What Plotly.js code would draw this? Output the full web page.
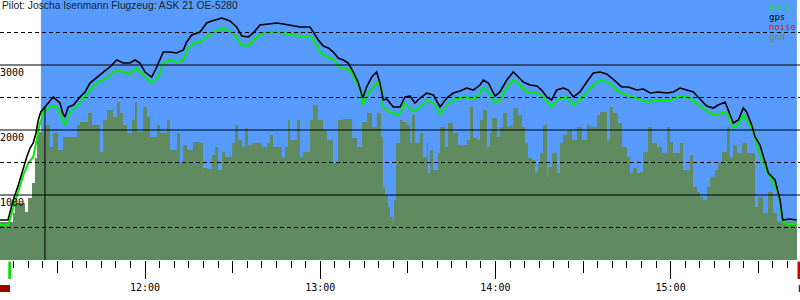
<!DOCTYPE html>
<html>
<head>
<meta charset="utf-8">
<script src="https://cdn.plot.ly/plotly-3.0.1.min.js"></script>
<style>
html,body{margin:0;padding:0;background:#fff;}
#chart{width:800px;height:300px;}
</style>
</head>
<body>
<div id="chart"></div>
<script>
// ---- data (time in decimal hours, altitude in m) ----
const titleText = "Pilot: Joscha Isenmann Flugzeug: ASK 21 OE-5280";
const hourTicks = [12, 13, 14, 15];
const hourLabels = ["12:00", "13:00", "14:00", "15:00"];
const halfHourTicks = [11.5, 12.5, 13.5, 14.5, 15.5];
const altLabels = [1000, 2000, 3000];
const solidLevels = [1000, 2000, 3000];
const dashLevels = [500, 1500, 2500, 3500];
const legendNames = ["baro", "gps", "noise", "gnd"];
const legendColors = ["#00ee00", "#000000", "#ff0000", "#5f8a5f"];
const flightStart = 11.406;   // start of blue (in-flight) band
const flightEnd = 15.721;
const markerTime = 11.429;
const markerAlt = 2354;

const gpsTime = [11.172,11.218,11.224,11.248,11.277,11.305,11.325,11.344,11.362,11.378,11.391,11.405,11.429,11.458,11.477,11.496,11.515,11.530,11.543,11.562,11.591,11.629,11.658,11.686,11.724,11.762,11.800,11.839,11.876,11.914,11.943,11.971,12.000,12.038,12.067,12.104,12.143,12.181,12.219,12.238,12.267,12.295,12.314,12.352,12.381,12.438,12.485,12.523,12.552,12.590,12.618,12.656,12.695,12.752,12.790,12.846,12.885,12.942,12.961,12.989,13.018,13.046,13.075,13.103,13.132,13.160,13.189,13.218,13.243,13.265,13.294,13.322,13.341,13.360,13.380,13.417,13.456,13.484,13.513,13.541,13.570,13.608,13.646,13.684,13.722,13.760,13.798,13.836,13.874,13.912,13.931,13.960,13.998,14.026,14.065,14.102,14.131,14.159,14.198,14.236,14.264,14.293,14.321,14.350,14.388,14.416,14.445,14.483,14.521,14.559,14.597,14.635,14.664,14.692,14.721,14.759,14.807,14.844,14.883,14.930,14.978,15.016,15.054,15.092,15.130,15.168,15.206,15.244,15.272,15.311,15.330,15.358,15.387,15.415,15.434,15.463,15.482,15.510,15.539,15.558,15.596,15.625,15.640,15.681,15.721];
const gpsAlt = [615,615,677,923,1154,1415,1585,1723,1800,1954,2154,2277,2354,2462,2508,2462,2415,2262,2200,2354,2385,2508,2585,2723,2815,2892,2969,3077,3031,3031,3077,3031,2892,2815,2969,3200,3200,3185,3231,3354,3462,3492,3508,3646,3677,3723,3677,3585,3446,3431,3492,3615,3631,3646,3631,3600,3585,3585,3508,3385,3292,3262,3200,3108,3077,3031,2892,2723,2492,2662,2815,2892,2723,2462,2477,2354,2354,2508,2523,2415,2492,2569,2538,2354,2492,2569,2600,2646,2615,2692,2769,2723,2523,2585,2769,2892,2815,2738,2692,2677,2615,2508,2462,2615,2646,2615,2508,2585,2738,2877,2892,2862,2800,2738,2662,2662,2615,2631,2569,2585,2569,2585,2646,2615,2585,2477,2369,2338,2385,2431,2308,2108,2154,2338,2277,2077,1892,1769,1508,1338,1231,923,615,631,615];

const baroTime = [11.172,11.220,11.248,11.277,11.305,11.334,11.362,11.382,11.401,11.420,11.458,11.496,11.525,11.543,11.572,11.629,11.686,11.724,11.781,11.839,11.876,11.914,11.953,11.990,12.038,12.076,12.104,12.143,12.181,12.219,12.247,12.285,12.314,12.390,12.447,12.504,12.552,12.590,12.638,12.695,12.771,12.809,12.885,12.942,12.970,12.999,13.037,13.075,13.113,13.170,13.199,13.227,13.243,13.265,13.303,13.332,13.351,13.360,13.398,13.437,13.456,13.484,13.532,13.570,13.608,13.646,13.684,13.722,13.760,13.817,13.855,13.893,13.931,13.960,13.998,14.026,14.065,14.102,14.141,14.179,14.236,14.274,14.321,14.350,14.407,14.445,14.483,14.521,14.559,14.597,14.654,14.702,14.750,14.807,14.864,14.930,14.997,15.054,15.111,15.168,15.225,15.263,15.301,15.330,15.358,15.387,15.415,15.443,15.472,15.501,15.539,15.577,15.615,15.640,15.663,15.721];
const baroAlt = [538,538,800,1046,1308,1492,1585,1846,2108,2262,2354,2369,2200,2077,2262,2415,2615,2723,2800,2923,2892,2862,2954,2846,2723,2815,3031,3077,3046,3077,3262,3338,3354,3508,3569,3492,3308,3292,3431,3508,3508,3477,3446,3446,3354,3200,3123,3092,2954,2923,2769,2646,2385,2508,2662,2738,2615,2354,2277,2231,2262,2415,2277,2354,2462,2415,2246,2385,2462,2508,2492,2492,2646,2585,2415,2462,2662,2769,2692,2585,2569,2508,2354,2462,2508,2385,2462,2585,2692,2769,2723,2585,2538,2492,2431,2462,2462,2523,2492,2369,2262,2231,2277,2231,2031,2077,2231,2123,1969,1692,1431,1231,1031,585,554,554];

const gndTime = [11.172,11.247,11.258,11.315,11.332,11.355,11.372,11.384,11.429,11.458,11.475,11.503,11.532,11.612,11.629,11.675,11.697,11.743,11.760,11.783,11.817,11.840,11.857,11.874,11.897,11.926,11.943,11.954,11.989,12.011,12.029,12.069,12.086,12.126,12.143,12.183,12.200,12.217,12.240,12.274,
12.314,12.331,12.354,12.382,12.400,12.417,12.440,12.457,12.497,12.514,12.531,12.554,12.571,12.588,12.611,12.668,12.696,12.713,12.731,12.782,12.799,12.816,12.828,12.868,12.885,12.902,12.942,12.959,12.987,13.016,13.039,13.073,13.102,13.130,13.182,13.210,13.239,13.267,13.296,13.324,13.347,13.358,13.370,13.387,13.398,13.416,13.421,13.433,
13.456,13.473,13.496,13.513,13.524,13.541,13.570,13.587,13.610,13.615,13.627,13.644,13.672,13.684,13.712,13.729,13.758,13.787,13.838,13.855,13.872,13.895,13.912,13.929,13.952,13.969,13.981,14.009,14.026,14.043,14.066,14.083,14.101,14.129,14.152,14.169,14.186,14.209,14.226,14.243,14.255,14.272,14.295,14.300,14.323,14.352,14.369,14.386,14.409,14.437,14.466,14.494,14.523,14.540,14.580,
14.597,14.637,14.654,14.671,14.700,14.723,14.751,14.768,14.786,14.808,14.826,14.843,14.871,14.894,14.922,14.951,14.980,14.997,15.014,15.054,15.071,15.111,15.128,15.151,15.168,15.185,15.208,15.225,15.253,15.271,15.293,15.322,15.339,15.356,15.379,15.408,15.436,15.482,15.499,15.528,15.556,15.584,15.607,15.721];
const gndAlt = [585,723,877,738,954,1185,1569,1969,2077,1738,1954,1692,1892,2077,2123,2262,2077,1662,2154,2308,2200,2431,2262,2077,1954,2154,2431,1969,2354,2200,1892,2077,1954,2154,1692,1954,1492,1769,1692,1815,
1800,1415,1400,1615,1738,1385,1662,1585,1800,2077,1846,1738,2031,1769,1800,1738,1800,1923,1738,1585,1738,2154,1846,2154,1585,1662,2154,2385,2154,2000,1846,1492,2154,2169,1877,1738,2123,2262,2046,2262,1892,1123,1000,815,662,569,923,1800,
2154,2123,2077,1800,2231,1800,1954,1585,1800,1338,1692,1385,1646,2046,1738,2108,1954,1769,1846,2354,1877,1846,2154,2308,1738,1954,2185,1892,2046,2262,2046,2062,2338,2231,2046,1800,1569,1538,1354,1492,1646,2077,1277,1431,1646,1338,1800,1923,2000,1846,2046,1846,2077,2046,2231,
2277,1846,2354,2262,2108,1738,1585,1338,1415,1338,1354,1662,2046,1800,1738,1646,2046,1815,1646,1800,1385,1615,1123,1046,969,923,1123,1277,1385,1492,1662,2046,1585,1769,1646,1800,1646,815,969,723,1046,723,585,585];

// ---- drawing ----
const X0 = 11.1724, X1 = 15.7386;
const PH = 260; // plot height in px
const mono = "DejaVu Sans Mono, monospace";

const traces = [
  {x: gndTime, y: gndAlt, type: "scatter", mode: "lines", line: {shape: "hv", width: 0, color: "#5f8a5f"},
   fill: "tozeroy", fillcolor: "#608b60", hoverinfo: "skip", showlegend: false},
  {x: baroTime, y: baroAlt, type: "scatter", mode: "lines", line: {color: "#00ee00", width: 2}, showlegend: false},
  {x: gpsTime, y: gpsAlt, type: "scatter", mode: "lines", line: {color: "#000000", width: 1.6}, showlegend: false},
  {x: [], y: [], xaxis: "x2", type: "scatter", mode: "lines", showlegend: false}
];

const shapes = [];
shapes.push({type: "rect", xref: "x", yref: "paper", x0: flightStart, x1: flightEnd, y0: 0, y1: 1,
  fillcolor: "#589bff", line: {width: 0}, layer: "below"});
solidLevels.forEach(v => shapes.push({type: "line", xref: "paper", yref: "y", x0: 0, x1: 1, y0: v, y1: v,
  line: {color: "#000", width: 1}, layer: "above"}));
dashLevels.forEach(v => shapes.push({type: "line", xref: "paper", yref: "y", x0: 0, x1: 1, y0: v, y1: v,
  line: {color: "#000", width: 1, dash: "4px,3px"}, layer: "above"}));
shapes.push({type: "line", xref: "x", yref: "y", x0: markerTime, x1: markerTime, y0: 0, y1: markerAlt,
  line: {color: "#000", width: 1}, layer: "above"});
// start / end markers under the axis
shapes.push({type: "rect", xref: "paper", yref: "paper", x0: 8.3/800, x1: 11/800, y0: -1.7/PH, y1: -19/PH,
  fillcolor: "#00dd00", line: {width: 0}});
shapes.push({type: "rect", xref: "paper", yref: "paper", x0: 0, x1: 10/800, y0: -25/PH, y1: -32/PH,
  fillcolor: "#a00000", line: {width: 0}});
shapes.push({type: "rect", xref: "paper", yref: "paper", x0: 797.5/800, x1: 1, y0: -1.7/PH, y1: -19/PH,
  fillcolor: "#cc0000", line: {width: 0}});
shapes.push({type: "rect", xref: "paper", yref: "paper", x0: 798.8/800, x1: 1, y0: -25/PH, y1: -32/PH,
  fillcolor: "#a00000", line: {width: 0}});

const annotations = [];
annotations.push({text: titleText, xref: "paper", yref: "paper", x: 0, y: 1, xanchor: "left", yanchor: "top",
  yshift: 2, showarrow: false, font: {family: "Liberation Sans, Arial, sans-serif", size: 10.3, color: "#222"}});
altLabels.forEach(v => annotations.push({text: String(v), xref: "paper", yref: "y", x: 0, y: v,
  xanchor: "left", yanchor: "top", xshift: -2, yshift: 0, showarrow: false, font: {family: mono, size: 10, color: "#000"}}));
legendNames.forEach((n, i) => annotations.push({text: n, xref: "paper", yref: "paper", x: 769/800, y: 1 - (7 + 10*i)/PH,
  xanchor: "left", yanchor: "middle", xshift: -1, borderpad: 0, showarrow: false,
  font: {family: mono, size: 9, color: legendColors[i]}}));

const layout = {
  width: 800, height: 300,
  margin: {l: 0, r: 0, t: 0, b: 40, pad: 0},
  paper_bgcolor: "#ffffff", plot_bgcolor: "#ffffff",
  showlegend: false,
  xaxis: {range: [X0, X1], tickvals: hourTicks, ticktext: hourLabels, ticks: "outside", ticklen: 18, tickwidth: 1,
    tickcolor: "#000", showgrid: false, zeroline: false, showline: false,
    tickfont: {family: mono, size: 10, color: "#000"},
    minor: {tick0: 11, dtick: 1/12, ticks: "outside", ticklen: 7, tickwidth: 1, tickcolor: "#000", showgrid: false}},
  xaxis2: {range: [X0, X1], overlaying: "x", anchor: "y", side: "bottom", tickvals: halfHourTicks, ticks: "outside",
    ticklen: 12, tickwidth: 1, tickcolor: "#000", showticklabels: false, showgrid: false, zeroline: false, showline: false},
  yaxis: {range: [0, 4000], showgrid: false, zeroline: false, showticklabels: false, ticks: "", showline: false},
  shapes: shapes,
  annotations: annotations
};

Plotly.newPlot("chart", traces, layout, {staticPlot: true, displayModeBar: false});
</script>
</body>
</html>
